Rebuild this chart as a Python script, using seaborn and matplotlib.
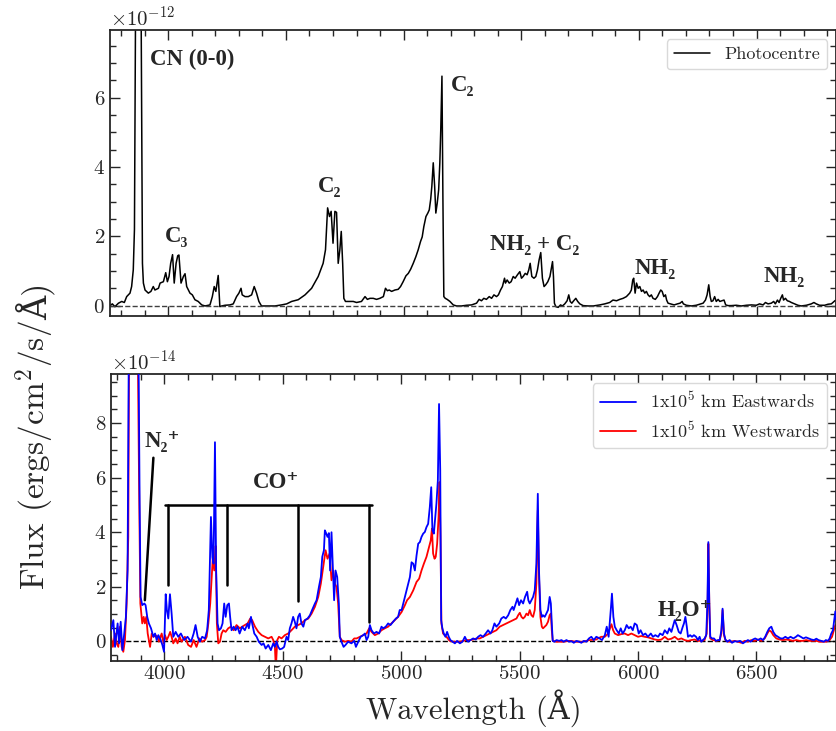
import numpy as np
import pandas as pd
import matplotlib
matplotlib.use("Agg")
import matplotlib.pyplot as plt
import seaborn as sns

# --- photocentre spectrum (flux in units of 1e-12 erg/cm2/s/A) ---
wave_top = [3752, 3762, 3773, 3788, 3802, 3813, 3823, 3837, 3844, 3851, 3856, 3861, 3873, 3884, 3890,
            3894, 3901, 3915, 3926, 3936, 3943, 3958, 3965, 3979, 3989, 3996, 4003, 4010, 4018, 4025,
            4033, 4040, 4045, 4054, 4064, 4071, 4078, 4092, 4102, 4113, 4127, 4142, 4156, 4177, 4187,
            4195, 4202, 4212, 4219, 4227, 4241, 4262, 4276, 4290, 4300, 4309, 4314, 4326, 4340, 4354,
            4365, 4375, 4385, 4396, 4425, 4453, 4481, 4503, 4524, 4552, 4581, 4609, 4637, 4658, 4668,
            4677, 4685, 4692, 4700, 4708, 4715, 4722, 4729, 4735, 4741, 4746, 4753, 4786, 4800, 4821,
            4836, 4846, 4857, 4871, 4885, 4899, 4914, 4923, 4931, 4939, 4949, 4963, 4977, 4987, 4998,
            5010, 5020, 5030, 5041, 5052, 5062, 5072, 5079, 5086, 5095, 5103, 5109, 5115, 5120, 5126,
            5132, 5137, 5143, 5149, 5154, 5158, 5163, 5167, 5171, 5177, 5185, 5197, 5211, 5225, 5246,
            5268, 5289, 5310, 5321, 5331, 5341, 5352, 5364, 5374, 5384, 5395, 5403, 5412, 5420, 5429,
            5433, 5440, 5449, 5457, 5466, 5474, 5484, 5494, 5501, 5508, 5517, 5525, 5532, 5538, 5545,
            5554, 5562, 5569, 5576, 5583, 5590, 5597, 5604, 5613, 5622, 5627, 5633, 5637, 5641, 5647,
            5657, 5667, 5675, 5685, 5695, 5702, 5708, 5715, 5723, 5732, 5740, 5749, 5763, 5784, 5806,
            5834, 5855, 5876, 5890, 5905, 5919, 5933, 5947, 5961, 5968, 5974, 5978, 5984, 5990, 5997,
            6004, 6011, 6018, 6025, 6032, 6039, 6046, 6053, 6060, 6070, 6079, 6086, 6093, 6099, 6106,
            6113, 6118, 6124, 6135, 6150, 6164, 6175, 6184, 6189, 6202, 6223, 6244, 6263, 6273, 6283,
            6290, 6297, 6303, 6308, 6315, 6322, 6329, 6337, 6344, 6353, 6362, 6369, 6379, 6393, 6414,
            6436, 6457, 6478, 6499, 6513, 6528, 6538, 6549, 6563, 6573, 6580, 6589, 6596, 6603, 6610,
            6615, 6623, 6631, 6640, 6648, 6662, 6676, 6690, 6712, 6733, 6744, 6754, 6768, 6790, 6804,
            6818, 6825, 6835]
flux_top = [0.00, 0.05, -0.03, 0.07, 0.12, 0.09, 0.26, 0.36, 0.55, 1.03, 2.20, 9.0, 25.0, 9.0, 1.22,
            0.65, 0.45, 0.36, 0.41, 0.55, 0.45, 0.50, 0.65, 0.69, 0.95, 0.69, 0.84, 1.22, 1.47, 0.65,
            1.22, 1.44, 1.46, 0.65, 0.84, 0.92, 0.55, 0.36, 0.31, 0.17, 0.12, 0.02, -0.01, 0.02, 0.26,
            0.55, 0.41, 0.87, -0.03, -0.01, 0.01, 0.02, 0.05, 0.26, 0.36, 0.50, 0.31, 0.26, 0.26, 0.31,
            0.55, 0.36, 0.12, -0.01, -0.01, -0.01, 0.02, 0.05, 0.12, 0.17, 0.31, 0.50, 0.84, 1.22, 1.61,
            2.82, 2.57, 2.72, 1.80, 2.72, 2.69, 1.22, 1.61, 2.14, 1.22, 0.21, 0.12, 0.12, 0.09, 0.12,
            0.26, 0.18, 0.21, 0.21, 0.18, 0.21, 0.26, 0.50, 0.43, 0.45, 0.41, 0.45, 0.47, 0.55, 0.69,
            0.86, 0.93, 1.05, 1.22, 1.41, 1.61, 1.85, 1.98, 2.28, 2.57, 2.67, 2.76, 3.06, 3.44, 4.12,
            3.44, 2.67, 2.96, 3.34, 4.12, 5.08, 6.62, 3.15, 0.26, 0.21, 0.18, 0.12, 0.02, -0.01, -0.01,
            0.01, 0.02, 0.07, 0.18, 0.14, 0.21, 0.18, 0.26, 0.21, 0.31, 0.26, 0.31, 0.45, 0.55, 0.79,
            0.65, 0.74, 0.65, 0.69, 0.84, 0.79, 0.89, 0.98, 0.79, 0.84, 0.93, 0.89, 1.03, 1.22, 0.84,
            0.79, 0.84, 1.03, 1.32, 1.53, 0.79, 0.55, 0.60, 0.69, 0.84, 1.03, 1.27, 0.84, 0.07, -0.03,
            -0.05, 0.02, -0.01, 0.05, 0.14, 0.31, 0.12, 0.07, 0.14, 0.21, 0.12, 0.05, 0.00, -0.01, -0.01,
            0.02, 0.05, 0.09, 0.16, 0.14, 0.18, 0.21, 0.26, 0.36, 0.45, 0.74, 0.79, 0.36, 0.65, 0.50,
            0.55, 0.41, 0.45, 0.36, 0.41, 0.31, 0.26, 0.31, 0.21, 0.18, 0.26, 0.36, 0.45, 0.41, 0.26,
            0.31, 0.16, 0.07, 0.05, 0.02, 0.05, 0.07, 0.12, 0.05, 0.01, -0.01, 0.01, 0.05, 0.07, 0.16,
            0.31, 0.60, 0.26, 0.12, 0.14, 0.26, 0.12, 0.18, 0.12, 0.14, 0.16, 0.02, 0.00, 0.00, 0.01,
            -0.01, 0.01, 0.02, 0.01, 0.05, 0.02, 0.09, 0.05, 0.07, 0.12, 0.05, 0.16, 0.09, 0.21, 0.31,
            0.16, 0.21, 0.14, 0.12, 0.09, 0.05, 0.01, -0.01, 0.01, 0.05, 0.09, 0.05, 0.01, 0.01, 0.04,
            0.05, 0.09, 0.15]

# --- offset spectra (flux in units of 1e-14 erg/cm2/s/A) ---
wave_east = [3775, 3785, 3792, 3803, 3809, 3816, 3823, 3831, 3838, 3845, 3851, 3871, 3890, 3896, 3900,
             3907, 3916, 3921, 3928, 3935, 3944, 3954, 3961, 3968, 3975, 3985, 3992, 3999, 4006, 4011,
             4017, 4024, 4031, 4038, 4048, 4059, 4070, 4084, 4098, 4113, 4124, 4132, 4141, 4150, 4160,
             4172, 4181, 4188, 4197, 4203, 4208, 4214, 4219, 4225, 4231, 4239, 4246, 4253, 4259, 4266,
             4273, 4278, 4284, 4293, 4301, 4309, 4318, 4329, 4340, 4352, 4357, 4366, 4371, 4380, 4390,
             4399, 4411, 4419, 4428, 4439, 4450, 4460, 4467, 4474, 4481, 4488, 4498, 4506, 4516, 4523,
             4530, 4537, 4544, 4551, 4558, 4565, 4572, 4579, 4587, 4594, 4605, 4615, 4624, 4636, 4643,
             4653, 4661, 4667, 4674, 4678, 4684, 4689, 4695, 4700, 4706, 4712, 4717, 4723, 4730, 4737,
             4741, 4748, 4757, 4765, 4776, 4790, 4802, 4809, 4819, 4829, 4840, 4847, 4854, 4861, 4868,
             4875, 4885, 4896, 4907, 4917, 4924, 4935, 4945, 4955, 4966, 4978, 4987, 4994, 5002, 5009,
             5016, 5023, 5030, 5037, 5044, 5051, 5058, 5065, 5072, 5079, 5086, 5093, 5100, 5107, 5114,
             5121, 5127, 5132, 5138, 5144, 5149, 5155, 5160, 5165, 5169, 5174, 5180, 5187, 5194, 5201,
             5208, 5217, 5227, 5236, 5248, 5259, 5269, 5276, 5283, 5293, 5304, 5315, 5325, 5335, 5346,
             5357, 5367, 5377, 5385, 5394, 5402, 5414, 5423, 5433, 5442, 5452, 5461, 5470, 5475, 5484,
             5491, 5498, 5506, 5515, 5523, 5532, 5537, 5543, 5550, 5557, 5564, 5571, 5577, 5582, 5588,
             5594, 5599, 5606, 5613, 5620, 5627, 5632, 5636, 5640, 5647, 5656, 5667, 5677, 5686, 5698,
             5709, 5719, 5729, 5740, 5751, 5761, 5771, 5782, 5793, 5803, 5813, 5824, 5838, 5848, 5860,
             5868, 5876, 5885, 5890, 5896, 5902, 5910, 5919, 5927, 5935, 5944, 5952, 5961, 5969, 5978,
             5986, 5995, 6003, 6011, 6021, 6031, 6042, 6054, 6063, 6073, 6085, 6093, 6104, 6113, 6124,
             6132, 6141, 6149, 6155, 6163, 6172, 6180, 6189, 6194, 6200, 6206, 6211, 6220, 6228, 6236,
             6245, 6253, 6260, 6267, 6274, 6281, 6288, 6293, 6297, 6301, 6305, 6312, 6321, 6329, 6338,
             6345, 6352, 6357, 6363, 6369, 6377, 6387, 6397, 6408, 6419, 6431, 6443, 6453, 6464, 6476,
             6485, 6495, 6507, 6518, 6528, 6537, 6546, 6554, 6563, 6571, 6580, 6591, 6602, 6612, 6622,
             6633, 6644, 6656, 6667, 6675, 6687, 6698, 6709, 6720, 6732, 6743, 6753, 6762, 6774, 6785,
             6793, 6802, 6809, 6816, 6823, 6830, 6833, 6837]
flux_east = [0.41, 0.78, -0.20, 0.66, -0.07, 0.72, -0.32, 0.29, 0.90, 2.60, 12.0, 40.0, 12.0, 5.05, 1.63,
             1.33, 1.39, 1.33, 0.90, 0.66, 0.48, 0.17, 0.29, 0.05, 0.23, 0.05, -0.13, -0.38, 1.73, 1.15,
             0.84, 1.73, 1.02, 0.17, 0.35, 0.17, 0.29, 0.05, 0.17, -0.01, 0.29, 0.60, 0.17, -0.01, 0.17,
             0.11, 0.41, 1.15, 4.56, 3.10, 2.85, 7.30, 2.60, 0.66, 0.41, 0.48, 0.66, 1.39, 0.90, 1.33,
             1.39, 0.90, 0.41, 0.54, 0.41, 0.54, 0.29, 0.54, 0.41, 0.66, 0.48, 0.90, 0.66, 0.29, 0.17,
             -0.01, -0.13, -0.07, -0.26, -0.13, -0.32, -0.07, -0.20, 0.00, -0.20, -0.29, -0.26, -0.20, 0.17, 0.05,
             0.48, 0.66, 0.90, 0.72, 0.48, 0.90, 1.02, 0.66, 0.54, 0.78, 0.84, 0.96, 1.15, 1.39, 1.51,
             2.00, 2.36, 3.10, 3.34, 4.07, 3.95, 3.83, 3.97, 2.60, 4.00, 2.60, 1.51, 2.60, 2.36, 1.39,
             0.17, -0.01, -0.20, -0.13, -0.01, -0.07, 0.02, -0.20, -0.01, 0.17, 0.23, 0.29, 0.05, 0.17, 0.60,
             0.41, 0.29, 0.35, 0.29, 0.54, 0.48, 0.54, 0.66, 0.60, 0.72, 0.84, 0.90, 1.15, 1.15, 1.39,
             1.63, 1.87, 2.12, 2.36, 2.90, 2.85, 2.60, 3.15, 3.58, 3.64, 3.83, 3.95, 4.01, 4.19, 4.31,
             4.92, 5.65, 4.07, 3.95, 4.56, 5.05, 5.90, 8.70, 6.27, 0.78, 0.48, 0.29, 0.17, 0.35, 0.17,
             0.05, -0.01, -0.07, 0.02, -0.07, -0.01, 0.17, 0.05, -0.01, 0.05, 0.11, 0.07, 0.17, 0.23, 0.17,
             0.29, 0.41, 0.29, 0.41, 0.66, 0.54, 0.66, 0.84, 0.90, 0.84, 0.96, 1.15, 1.27, 1.15, 1.39,
             1.58, 1.33, 1.51, 1.39, 1.63, 1.82, 1.51, 1.39, 1.51, 1.63, 1.87, 2.85, 5.41, 2.60, 1.15,
             0.90, 0.96, 0.90, 1.02, 1.15, 1.63, 1.39, 0.66, 0.02, -0.01, 0.05, 0.02, 0.05, -0.01, 0.05,
             -0.01, 0.01, -0.05, 0.02, -0.01, -0.05, 0.02, -0.01, 0.11, 0.17, 0.05, 0.17, 0.11, 0.05, 0.23,
             0.54, 0.17, 1.15, 1.75, 0.90, 0.54, 0.41, 0.29, 0.48, 0.29, 0.41, 0.60, 0.48, 0.54, 0.41,
             0.66, 0.60, 0.29, 0.41, 0.23, 0.29, 0.17, 0.29, 0.17, 0.23, 0.17, 0.29, 0.23, 0.41, 0.29,
             0.48, 0.35, 0.60, 0.78, 0.60, 0.35, 0.29, 0.54, 0.66, 0.90, 0.54, 0.17, 0.23, 0.17, 0.23,
             0.17, 0.05, 0.17, -0.01, 0.05, 0.11, 0.23, 1.39, 3.64, 1.39, 0.17, 0.11, 0.11, 0.02, 0.05,
             0.05, 0.41, 1.20, 0.29, 0.07, -0.01, 0.05, -0.05, 0.01, -0.01, 0.02, -0.07, -0.01, 0.05, -0.01,
             0.07, 0.11, 0.05, 0.11, 0.05, 0.17, 0.35, 0.48, 0.54, 0.35, 0.23, 0.17, 0.11, 0.11, 0.17,
             0.11, 0.17, 0.11, 0.17, 0.23, 0.17, 0.11, 0.15, 0.11, 0.07, 0.05, 0.10, 0.05, 0.02, -0.01,
             0.05, 0.02, 0.11, 0.29, 0.41, 0.90, 1.10, 0.80]

wave_west = [3775, 3783, 3792, 3799, 3806, 3813, 3820, 3827, 3834, 3841, 3848, 3852, 3871, 3887, 3893,
             3899, 3907, 3913, 3918, 3924, 3930, 3940, 3947, 3955, 3963, 3972, 3977, 3989, 3997, 4003,
             4010, 4017, 4025, 4031, 4038, 4048, 4056, 4065, 4073, 4087, 4101, 4113, 4124, 4136, 4148,
             4160, 4172, 4179, 4186, 4194, 4200, 4205, 4211, 4217, 4222, 4228, 4235, 4242, 4249, 4259,
             4270, 4281, 4293, 4305, 4319, 4329, 4340, 4352, 4363, 4371, 4383, 4397, 4411, 4425, 4439,
             4453, 4460, 4467, 4471, 4477, 4484, 4495, 4509, 4523, 4537, 4551, 4565, 4579, 4594, 4608,
             4622, 4636, 4650, 4661, 4671, 4681, 4689, 4698, 4706, 4713, 4720, 4727, 4734, 4741, 4748,
             4762, 4776, 4790, 4802, 4812, 4826, 4840, 4854, 4865, 4875, 4889, 4903, 4917, 4931, 4945,
             4959, 4973, 4987, 5002, 5016, 5025, 5037, 5051, 5065, 5076, 5086, 5096, 5107, 5118, 5125,
             5130, 5135, 5141, 5146, 5152, 5158, 5162, 5166, 5170, 5177, 5191, 5205, 5219, 5234, 5248,
             5262, 5276, 5290, 5304, 5318, 5332, 5346, 5360, 5374, 5388, 5402, 5416, 5430, 5445, 5459,
             5473, 5487, 5494, 5501, 5508, 5515, 5522, 5529, 5536, 5543, 5550, 5557, 5564, 5571, 5577,
             5582, 5588, 5594, 5599, 5606, 5613, 5620, 5627, 5632, 5636, 5640, 5655, 5684, 5712, 5740,
             5768, 5796, 5824, 5831, 5845, 5860, 5874, 5882, 5888, 5895, 5902, 5916, 5930, 5944, 5958,
             5972, 5986, 6000, 6014, 6028, 6042, 6056, 6071, 6085, 6099, 6113, 6127, 6141, 6155, 6169,
             6183, 6197, 6211, 6225, 6239, 6253, 6267, 6281, 6290, 6294, 6297, 6301, 6305, 6317, 6331,
             6345, 6352, 6357, 6363, 6369, 6380, 6394, 6408, 6422, 6436, 6450, 6464, 6478, 6492, 6507,
             6521, 6535, 6546, 6554, 6563, 6571, 6584, 6598, 6612, 6626, 6640, 6654, 6668, 6682, 6696,
             6710, 6724, 6739, 6753, 6767, 6781, 6795, 6809, 6819, 6827, 6833]
flux_west = [0.17, -0.20, 0.29, -0.07, -0.20, 0.54, -0.20, -0.38, 0.05, 1.39, 3.83, 12.0, 40.0, 12.0, 6.27,
             1.39, 0.66, 0.90, 0.66, 0.90, 0.29, -0.20, 0.29, 0.17, 0.23, 0.17, -0.01, 0.29, -0.07, 0.23,
             0.05, 0.17, 0.35, 0.17, -0.07, 0.11, -0.07, 0.17, -0.01, 0.17, -0.13, -0.20, 0.05, -0.20, 0.11,
             -0.01, 0.05, 0.17, 0.66, 1.39, 2.36, 3.10, 2.60, 3.50, 0.66, -0.07, -0.01, 0.29, 0.41, 0.35,
             0.48, 0.54, 0.41, 0.60, 0.48, 0.54, 0.60, 0.66, 0.84, 0.78, 0.54, 0.35, 0.23, 0.17, 0.11,
             0.17, 0.05, -0.20, -1.00, 0.05, 0.17, 0.11, 0.23, 0.29, 0.41, 0.54, 0.60, 0.66, 0.78, 0.84,
             1.02, 1.27, 1.63, 2.12, 2.73, 3.34, 3.03, 3.22, 2.24, 2.60, 2.12, 2.00, 1.39, 0.17, 0.05,
             -0.01, 0.02, -0.01, 0.11, 0.11, 0.17, 0.23, 0.29, 0.48, 0.35, 0.23, 0.29, 0.41, 0.48, 0.54,
             0.66, 0.78, 0.90, 1.08, 1.33, 1.51, 1.63, 1.87, 2.18, 2.30, 2.60, 2.85, 3.10, 3.46, 3.70,
             4.13, 3.22, 3.03, 3.10, 3.58, 4.56, 5.84, 3.83, 0.66, 0.29, 0.17, 0.02, -0.01, -0.01, -0.01,
             0.02, 0.05, 0.05, 0.07, 0.11, 0.11, 0.17, 0.23, 0.29, 0.35, 0.41, 0.54, 0.60, 0.66, 0.72,
             0.78, 0.84, 0.96, 1.05, 0.90, 0.84, 0.90, 1.02, 0.96, 1.15, 0.96, 0.90, 1.15, 2.12, 4.80,
             2.36, 0.90, 0.54, 0.48, 0.54, 0.60, 0.72, 0.96, 1.02, 0.41, 0.02, -0.01, -0.01, 0.02, -0.01,
             -0.01, 0.05, 0.07, 0.11, 0.17, 0.17, 0.29, 0.48, 0.63, 0.41, 0.29, 0.23, 0.27, 0.29, 0.23,
             0.29, 0.23, 0.17, 0.20, 0.17, 0.15, 0.11, 0.07, 0.05, 0.07, 0.17, 0.07, 0.10, 0.17, 0.07,
             0.11, 0.05, 0.02, 0.05, 0.07, 0.02, 0.02, 0.05, 0.29, 1.39, 3.58, 1.39, 0.11, 0.05, 0.02,
             0.05, 0.29, 1.15, 0.23, 0.05, -0.01, -0.01, 0.02, -0.01, -0.05, 0.02, -0.01, 0.05, 0.02, 0.07,
             0.02, 0.11, 0.29, 0.41, 0.35, 0.23, 0.11, 0.07, 0.05, 0.07, 0.05, 0.02, 0.05, 0.02, 0.02,
             0.05, 0.02, 0.02, 0.02, -0.01, -0.01, -0.01, 0.05, 0.17, 0.41, 0.60]

# CO+ band markers (wavelength, bottom of tick) and bracket height
co_wave = [4017, 4263, 4565, 4865]
co_bottom = [2.06, 2.06, 1.47, 0.72]
co_bar = (4003, 4879, 5.0)

top_labels = [("CN (0-0)", 3922, 7.1), ("C₃", 3986, 1.98), ("C₂", 4636, 3.43),
              ("C₂", 5201, 6.36), ("NH₂ + C₂", 5367, 1.76), ("NH₂", 5983, 1.06),
              ("NH₂", 6528, 0.83)]
bot_labels = [("N₂⁺", 3916, 7.34), ("CO⁺", 4375, 5.81), ("H₂O⁺", 6084, 1.15)]

top_scale = 1e-12
bot_scale = 1e-14

sns.set_style("ticks")
plt.rcParams['font.family'] = ['cmr10', 'DejaVu Serif']
plt.rcParams['mathtext.fontset'] = 'cm'
plt.rcParams['axes.formatter.use_mathtext'] = True
plt.rcParams['axes.linewidth'] = 1.3
plt.rcParams['xtick.labelsize'] = 15
plt.rcParams['ytick.labelsize'] = 15

label_font = dict(family=['Liberation Serif', 'DejaVu Serif'], fontweight='bold', fontsize=16.5)

df_top = pd.DataFrame({"wave": wave_top, "flux": np.array(flux_top) * top_scale})
df_e = pd.DataFrame({"wave": wave_east, "flux": np.array(flux_east) * bot_scale})
df_w = pd.DataFrame({"wave": wave_west, "flux": np.array(flux_west) * bot_scale})

fig = plt.figure(figsize=(8.37, 7.31), dpi=100)
ax1 = fig.add_axes([0.1314, 0.5677, 0.868, 0.3912])
ax2 = fig.add_axes([0.1326, 0.0964, 0.8668, 0.392])

# top panel
sns.lineplot(data=df_top, x="wave", y="flux", ax=ax1, color="k", lw=1.1,
             estimator=None, sort=False, label="Photocentre")
ax1.axhline(0, ls="--", color="0.25", lw=1.0)
ax1.set_xlim(3752, 6840)
ax1.set_ylim(-0.3 * top_scale, 7.95 * top_scale)
for txt, x, y in top_labels:
    ax1.text(x, y * top_scale, txt, ha="left", va="center", **label_font)

# bottom panel: CO+ bracket and N2+ pointer
ax2.plot([co_bar[0], co_bar[1]], [co_bar[2] * bot_scale] * 2, color="k", lw=1.8, zorder=1)
for w, b in zip(co_wave, co_bottom):
    ax2.plot([w, w], [b * bot_scale, co_bar[2] * bot_scale], color="k", lw=1.8, zorder=1)
ax2.plot([3954, 3918], [6.73 * bot_scale, 1.51 * bot_scale], color="k", lw=1.8, zorder=1)

sns.lineplot(data=df_w, x="wave", y="flux", ax=ax2, color="red", lw=1.3,
             estimator=None, sort=False, label="1x10$^5$ km Westwards", zorder=2)
sns.lineplot(data=df_e, x="wave", y="flux", ax=ax2, color="blue", lw=1.3,
             estimator=None, sort=False, label="1x10$^5$ km Eastwards", zorder=3)
ax2.axhline(0, ls="--", color="k", lw=1.0, zorder=1)
ax2.set_xlim(3775, 6838)
ax2.set_ylim(-0.7 * bot_scale, 9.8 * bot_scale)
for txt, x, y in bot_labels:
    ax2.text(x, y * bot_scale, txt, ha="left", va="center", zorder=4, **label_font)

for ax in (ax1, ax2):
    ax.set_xlabel("")
    ax.set_ylabel("")
    ax.xaxis.set_major_locator(plt.MultipleLocator(500))
    ax.xaxis.set_minor_locator(plt.MultipleLocator(100))
    ax.tick_params(which="both", direction="in", top=True, right=True, width=1.0)
    ax.tick_params(which="major", length=7)
    ax.tick_params(which="minor", length=4)
    ax.yaxis.get_offset_text().set_fontsize(15)

ax1.yaxis.set_major_locator(plt.MultipleLocator(2 * top_scale))
ax1.yaxis.set_minor_locator(plt.MultipleLocator(0.5 * top_scale))
ax2.yaxis.set_major_locator(plt.MultipleLocator(2 * bot_scale))
ax2.yaxis.set_minor_locator(plt.MultipleLocator(0.5 * bot_scale))
ax1.tick_params(labelbottom=False)

ax1.legend(loc="upper right", fontsize=13, fancybox=True, framealpha=1,
           edgecolor="0.85", borderaxespad=0.5)
h, l = ax2.get_legend_handles_labels()
ax2.legend(h[::-1], l[::-1], loc="upper right", fontsize=13, fancybox=True,
           framealpha=1, edgecolor="0.85", borderaxespad=0.5)

ax2.set_xlabel("Wavelength (Å)", fontsize=22)

# shared y label: math part for the superscript, plain text for the Angstrom sign
ylab1 = fig.text(0.042, 0.193, r"Flux (ergs/cm$^2$/s/", rotation=90,
                 ha="center", va="bottom", fontsize=24)
fig.add_artist(plt.Annotation("Å)", xy=(0.5, 1.0), xycoords=ylab1, rotation=90,
                              ha="center", va="bottom", fontsize=24))

fig.savefig("out.png", dpi=100)
